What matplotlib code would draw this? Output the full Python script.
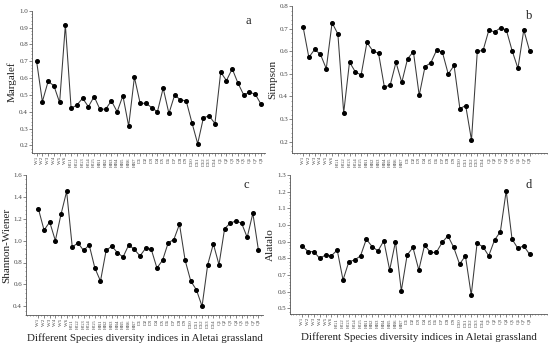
import matplotlib
matplotlib.use("Agg")
import matplotlib.pyplot as plt
from matplotlib.ticker import MultipleLocator

plt.rcParams['font.family'] = ['Liberation Serif', 'DejaVu Serif']

sites = (["W%d" % i for i in range(1, 7)] + ["HG%d" % i for i in range(1, 6)] +
         ["HB%d" % i for i in range(1, 8)] + ["D%d" % i for i in range(1, 15)] +
         ["Q%d" % i for i in range(1, 9)])

margalef = [0.70, 0.46, 0.58, 0.555, 0.455, 0.915, 0.42, 0.44, 0.48, 0.43,
            0.49, 0.415, 0.415, 0.465, 0.40, 0.495, 0.315, 0.605, 0.45, 0.45,
            0.425, 0.40, 0.54, 0.39, 0.50, 0.47, 0.465, 0.335, 0.21, 0.365,
            0.375, 0.33, 0.635, 0.585, 0.655, 0.57, 0.50, 0.515, 0.505, 0.445]
simpson = [0.709, 0.573, 0.608, 0.586, 0.523, 0.726, 0.676, 0.328, 0.552, 0.509,
           0.495, 0.639, 0.602, 0.591, 0.442, 0.450, 0.551, 0.462, 0.567, 0.598,
           0.405, 0.532, 0.549, 0.605, 0.595, 0.499, 0.537, 0.346, 0.360, 0.207,
           0.599, 0.604, 0.694, 0.685, 0.704, 0.694, 0.602, 0.524, 0.694, 0.602]
shannon = [1.29, 1.096, 1.17, 1.00, 1.24, 1.45, 0.94, 0.98, 0.91, 0.96,
           0.75, 0.63, 0.91, 0.95, 0.89, 0.85, 0.96, 0.92, 0.86, 0.93,
           0.92, 0.75, 0.82, 0.98, 1.01, 1.15, 0.82, 0.63, 0.55, 0.40,
           0.78, 0.97, 0.78, 1.11, 1.16, 1.18, 1.16, 1.03, 1.25, 0.91]
alatalo = [0.875, 0.84, 0.84, 0.80, 0.82, 0.815, 0.85, 0.67, 0.78, 0.79,
           0.815, 0.915, 0.87, 0.845, 0.905, 0.73, 0.90, 0.605, 0.82, 0.865,
           0.73, 0.88, 0.835, 0.835, 0.895, 0.935, 0.865, 0.765, 0.815, 0.58,
           0.89, 0.87, 0.815, 0.91, 0.96, 1.205, 0.915, 0.86, 0.875, 0.825]

W, H = 550, 347
fig = plt.figure(figsize=(W / 100, H / 100), dpi=100)

def px_axes(left, right, top, bottom):
    return fig.add_axes([left / W, 1 - bottom / H, (right - left) / W, (bottom - top) / H])

panels = [
    dict(data=margalef, ylabel="Margalef", letter="a", box=(32, 265, 10.7, 153),
         ylim=(0.155, 1.0), xlim=(-0.8, 39.7), yticks=[0.2 + 0.1 * i for i in range(9)]),
    dict(data=simpson, ylabel="Simpson", letter="b", box=(292, 547, 6, 153),
         ylim=(0.15, 0.8), xlim=(-1.9, 42), yticks=[0.2 + 0.1 * i for i in range(7)]),
    dict(data=shannon, ylabel="Shannon-Wiener", letter="c", box=(26, 263, 175, 315),
         ylim=(0.32, 1.6), xlim=(-2.2, 39.8), yticks=[0.4 + 0.2 * i for i in range(7)]),
    dict(data=alatalo, ylabel="Alatalo", letter="d", box=(290, 547, 175, 314),
         ylim=(0.466, 1.3), xlim=(-2.1, 42), yticks=[0.5 + 0.1 * i for i in range(9)]),
]

x = list(range(len(sites)))
spine_c = "#555555"
for i, p in enumerate(panels):
    ax = px_axes(*p["box"])
    ax.plot(x, p["data"], color="#3a3a3a", lw=0.75, marker="o", ms=2.6,
            mfc="black", mec="black")
    ax.set_xlim(*p["xlim"])
    ax.set_ylim(*p["ylim"])
    ax.set_xticks(x)
    ax.set_xticklabels(sites, rotation=90, fontsize=3.6, color="#444444")
    ax.set_yticks(p["yticks"])
    ax.set_yticklabels(["%.1f" % v for v in p["yticks"]], fontsize=5, color="#444444")
    ax.xaxis.set_minor_locator(MultipleLocator(0.5))
    step = p["yticks"][1] - p["yticks"][0]
    ax.yaxis.set_minor_locator(MultipleLocator(step / 5))
    ax.tick_params(axis="both", which="major", length=2, width=0.5, color=spine_c, pad=1)
    ax.tick_params(axis="y", which="major", pad=0.8)
    ax.tick_params(axis="both", which="minor", length=1, width=0.4, color=spine_c)
    for s in ("top", "right"):
        ax.spines[s].set_visible(False)
    for s in ("left", "bottom"):
        ax.spines[s].set_color(spine_c)
        ax.spines[s].set_linewidth(0.6)
    ax.set_ylabel(p["ylabel"], fontsize=8, color="#222222", labelpad=1.5)
    ax.text(0.93, 0.93, p["letter"], transform=ax.transAxes, fontsize=9,
            ha="center", va="center", color="#222222")
    if i >= 2:
        ax.set_xlabel("Different Species diversity indices in Aletai grassland",
                      fontsize=7.8, color="#222222", labelpad=3)

fig.savefig("out.png", dpi=100)
